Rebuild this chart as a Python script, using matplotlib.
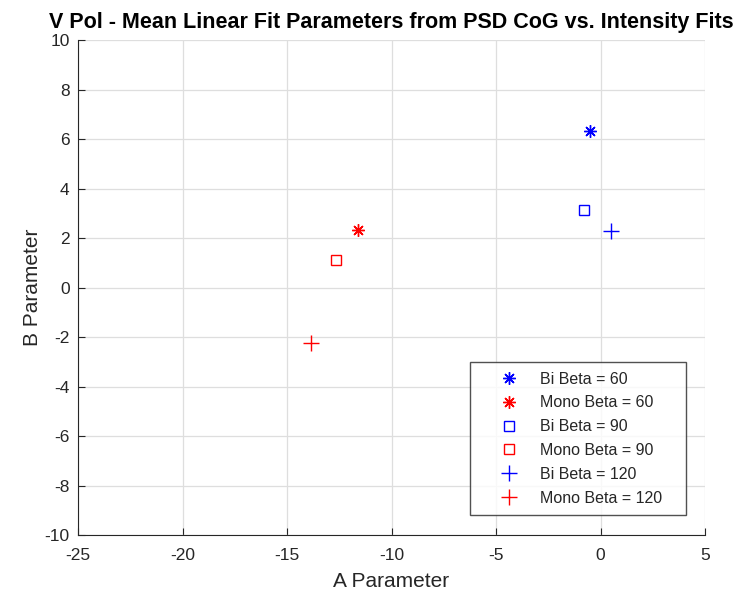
import matplotlib.pyplot as plt

plt.rcParams['font.family'] = ['Liberation Sans', 'DejaVu Sans']
plt.rcParams['axes.unicode_minus'] = False

# mean linear fit parameters (A, B)
labels = ['Bi Beta = 60', 'Mono Beta = 60', 'Bi Beta = 90',
          'Mono Beta = 90', 'Bi Beta = 120', 'Mono Beta = 120']
a_vals = [-0.49, -11.6, -0.78, -12.64, 0.48, -13.85]
b_vals = [6.33, 2.31, 3.14, 1.11, 2.27, -2.22]
colors = ['#0000ff', '#ff0000', '#0000ff', '#ff0000', '#0000ff', '#ff0000']
markers = [(8, 2, 0), (8, 2, 0), 's', 's', '+', '+']
sizes = [9, 9, 6.5, 6.5, 11, 11]

fig = plt.figure(figsize=(7.36, 5.98), dpi=100)
ax = fig.add_axes([0.106, 0.105, 0.852, 0.828])

for a, b, c, m, s, lab in zip(a_vals, b_vals, colors, markers, sizes, labels):
    ax.plot(a, b, linestyle='none', marker=m, color=c, markersize=s,
            markerfacecolor='none', markeredgewidth=1.0, label=lab)

ax.set_xlim(-25, 5)
ax.set_ylim(-10, 10)
ax.set_xticks(range(-25, 6, 5))
ax.set_yticks(range(-10, 11, 2))
ax.grid(True, color='#dedede', linewidth=0.9)
ax.set_axisbelow(True)
for side in ['top', 'right']:
    ax.spines[side].set_visible(False)
for side in ['left', 'bottom']:
    ax.spines[side].set_color('#262626')
ax.tick_params(direction='in', length=5, labelsize=12.5, colors='#262626',
               labelcolor='#262626')
ax.tick_params(axis='x', pad=9)
ax.tick_params(axis='y', pad=6)

ax.set_xlabel('A Parameter', fontsize=15, color='#262626', labelpad=7)
ax.set_ylabel('B Parameter', fontsize=15, color='#262626', labelpad=2)
ax.set_title('V Pol - Mean Linear Fit Parameters from PSD CoG vs. Intensity Fits',
             fontsize=15.5, fontweight='bold', pad=9)

leg = ax.legend(loc='lower left', bbox_to_anchor=(0.625, 0.0404, 0.3445, 0.3),
                mode='expand', fontsize=11.5, frameon=True, fancybox=False,
                edgecolor='#262626', handlelength=3.7, handletextpad=0.1,
                borderpad=0.6, labelspacing=0.55, borderaxespad=0)
leg.get_frame().set_linewidth(1.0)
for t in leg.get_texts():
    t.set_color('#262626')

fig.savefig('out.png', dpi=100)
